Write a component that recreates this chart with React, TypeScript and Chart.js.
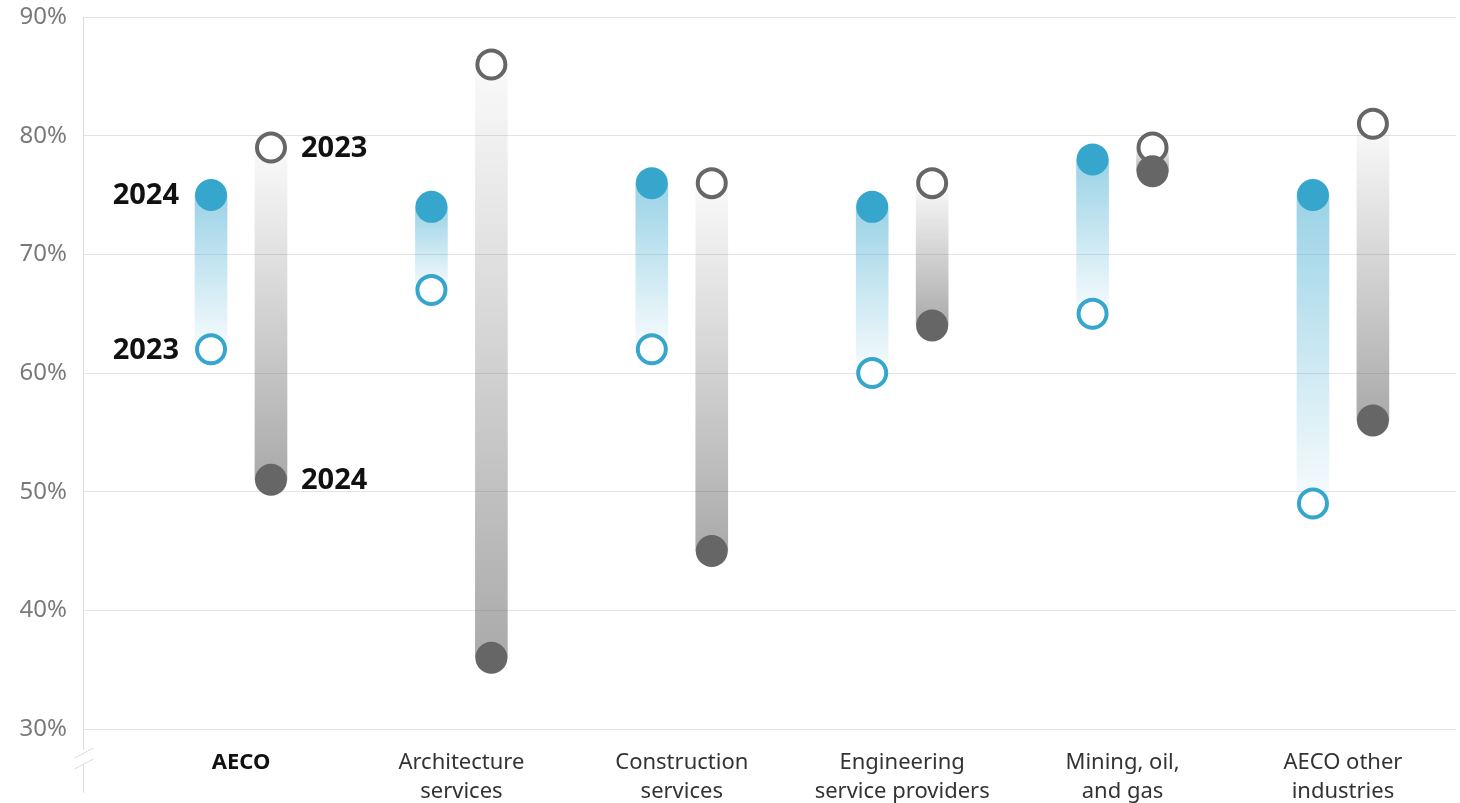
import React, { useEffect, useRef } from "react";
import { Chart, registerables } from "chart.js";

Chart.register(...registerables);

// Category labels (multi-line) along the bottom axis
const categories: string[][] = [
  ["AECO"],
  ["Architecture", "services"],
  ["Construction", "services"],
  ["Engineering", "service providers"],
  ["Mining, oil,", "and gas"],
  ["AECO other", "industries"],
];

// Blue series, percentage by year
const blue2023 = [62, 67, 62, 60, 65, 49];
const blue2024 = [75, 74, 76, 74, 78, 75];

// Grey series, percentage by year
const gray2023 = [79, 86, 76, 76, 79, 81];
const gray2024 = [51, 36, 45, 64, 77, 56];

// Y axis range and step (percent)
const yMin = 30;
const yMax = 90;
const yStep = 10;

const BLUE = "#36a6cd";
const BLUE_RGB = "54,166,205";
const GRAY = "#666666";
const GRAY_RGB = "100,100,100";
const FONT = "'Noto Sans', 'Open Sans', sans-serif";

// horizontal offset (in category units) of each pair member from the category centre
const PAIR_OFFSET = 0.136;
const X_MIN = -0.717;
const X_MAX = 5.513;

function barGradient(rgb: string, light: number, strong: number, from: number[], to: number[]) {
  return (c: any) => {
    const chart = c.chart;
    const y = chart.scales && chart.scales.y;
    const fallback = `rgba(${rgb},${(light + strong) / 2})`;
    if (c.type !== "data" || !y) return fallback;
    const i = c.dataIndex;
    const p0 = y.getPixelForValue(from[i]);
    const p1 = y.getPixelForValue(to[i]);
    if (!Number.isFinite(p0) || !Number.isFinite(p1) || p0 === p1) return fallback;
    const g = chart.ctx.createLinearGradient(0, p0, 0, p1);
    g.addColorStop(0, `rgba(${rgb},${light})`);
    g.addColorStop(1, `rgba(${rgb},${strong})`);
    return g;
  };
}

// Year call-outs next to the first pair
const yearLabels = {
  id: "yearLabels",
  afterDatasetsDraw(chart: any) {
    const { ctx, scales } = chart;
    const x = scales.x;
    const y = scales.y;
    const bx = x.getPixelForValue(0 - PAIR_OFFSET);
    const gx = x.getPixelForValue(0 + PAIR_OFFSET);
    ctx.save();
    ctx.font = `bold 29px ${FONT}`;
    ctx.fillStyle = "#111111";
    ctx.textBaseline = "middle";
    ctx.textAlign = "right";
    ctx.fillText("2024", bx - 32, y.getPixelForValue(blue2024[0]) + 1);
    ctx.fillText("2023", bx - 32, y.getPixelForValue(blue2023[0]) + 1);
    ctx.textAlign = "left";
    ctx.fillText("2023", gx + 30, y.getPixelForValue(gray2023[0]) + 1);
    ctx.fillText("2024", gx + 30, y.getPixelForValue(gray2024[0]) + 1);
    ctx.restore();
  },
};

// Vertical axis line with a break mark below the lowest tick
const axisBreak = {
  id: "axisBreak",
  afterDraw(chart: any) {
    const { ctx, chartArea } = chart;
    const x = Math.round(chartArea.left) + 0.5;
    const bottom = chartArea.bottom;
    ctx.save();
    ctx.strokeStyle = "#dcdcdc";
    ctx.lineWidth = 1;
    ctx.beginPath();
    ctx.moveTo(x, chartArea.top);
    ctx.lineTo(x, bottom + 21);
    ctx.moveTo(x, bottom + 36);
    ctx.lineTo(x, bottom + 64);
    ctx.moveTo(x - 9, bottom + 29);
    ctx.lineTo(x + 10, bottom + 19);
    ctx.moveTo(x - 9, bottom + 40);
    ctx.lineTo(x + 10, bottom + 30);
    ctx.stroke();
    ctx.restore();
  },
};

export default function App() {
  const canvasRef = useRef<HTMLCanvasElement | null>(null);

  useEffect(() => {
    const canvas = canvasRef.current;
    if (!canvas) return;
    Chart.defaults.font.family = FONT;

    const chart = new Chart(canvas, {
      type: "bar",
      data: {
        datasets: [
          {
            type: "bar",
            data: categories.map((_, i) => ({ x: i - PAIR_OFFSET, y: [blue2023[i], blue2024[i]] })) as any,
            backgroundColor: barGradient(BLUE_RGB, 0.04, 0.5, blue2023, blue2024),
            borderWidth: 0,
            borderSkipped: false,
            barThickness: 32,
            grouped: false,
            order: 10,
          } as any,
          {
            type: "bar",
            data: categories.map((_, i) => ({ x: i + PAIR_OFFSET, y: [gray2023[i], gray2024[i]] })) as any,
            backgroundColor: barGradient(GRAY_RGB, 0.03, 0.55, gray2023, gray2024),
            borderWidth: 0,
            borderSkipped: false,
            barThickness: 32,
            grouped: false,
            order: 10,
          } as any,
          {
            type: "scatter",
            data: categories.map((_, i) => ({ x: i - PAIR_OFFSET, y: blue2023[i] })),
            pointRadius: 14,
            pointBorderWidth: 4,
            pointBackgroundColor: "#ffffff",
            pointBorderColor: BLUE,
            order: 5,
          } as any,
          {
            type: "scatter",
            data: categories.map((_, i) => ({ x: i + PAIR_OFFSET, y: gray2023[i] })),
            pointRadius: 14,
            pointBorderWidth: 4,
            pointBackgroundColor: "#ffffff",
            pointBorderColor: GRAY,
            order: 5,
          } as any,
          {
            type: "scatter",
            data: categories.map((_, i) => ({ x: i - PAIR_OFFSET, y: blue2024[i] })),
            pointRadius: 16,
            pointBorderWidth: 0,
            pointBackgroundColor: BLUE,
            pointBorderColor: BLUE,
            order: 1,
          } as any,
          {
            type: "scatter",
            data: categories.map((_, i) => ({ x: i + PAIR_OFFSET, y: gray2024[i] })),
            pointRadius: 16,
            pointBorderWidth: 0,
            pointBackgroundColor: GRAY,
            pointBorderColor: GRAY,
            order: 1,
          } as any,
        ],
      },
      options: {
        responsive: false,
        animation: false,
        events: [],
        layout: { autoPadding: false, padding: { top: 17, right: 4, left: 0, bottom: 0 } },
        plugins: {
          legend: { display: false },
          tooltip: { enabled: false },
        },
        scales: {
          x: {
            type: "linear",
            min: X_MIN,
            max: X_MAX,
            offset: false,
            grid: { display: false },
            border: { display: false },
            afterBuildTicks: (axis: any) => {
              axis.ticks = categories.map((_, i) => ({ value: i }));
            },
            afterFit: (axis: any) => {
              axis.height = 74;
            },
            ticks: {
              autoSkip: false,
              maxRotation: 0,
              minRotation: 0,
              padding: 11,
              callback: (v: any) => categories[Number(v)],
              color: (c: any) => (c.index === 0 ? "#111111" : "#333333"),
              font: (c: any) => ({
                size: 22,
                family: FONT,
                weight: c.index === 0 ? "bold" : "normal",
                lineHeight: 1.32,
              }),
            },
          } as any,
          y: {
            type: "linear",
            min: yMin,
            max: yMax,
            grid: { color: "#e4e4e4", lineWidth: 1, drawTicks: false },
            border: { display: false },
            afterFit: (axis: any) => {
              axis.width = 83;
            },
            ticks: {
              stepSize: yStep,
              padding: 16,
              color: "#7a7a7a",
              font: { size: 24, family: FONT, lineHeight: 0.05 },
              callback: (v: any) => `${v}%`,
            },
          },
        },
      },
      plugins: [yearLabels, axisBreak],
    });

    return () => chart.destroy();
  }, []);

  return (
    <div style={{ position: "absolute", left: 0, top: 0, width: 1460, height: 803, background: "#ffffff" }}>
      <canvas ref={canvasRef} width={1460} height={803} />
    </div>
  );
}
